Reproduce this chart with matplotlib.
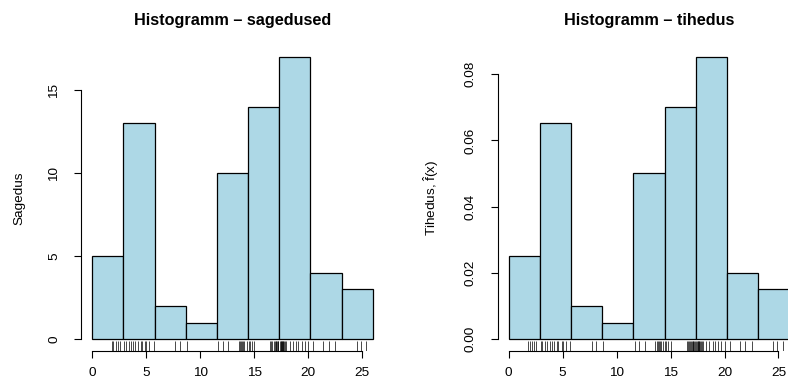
import numpy as np
import matplotlib
matplotlib.use('Agg')
import matplotlib.pyplot as plt

plt.rcParams['font.family'] = ['Liberation Sans', 'DejaVu Sans']
plt.rcParams['mathtext.fontset'] = 'custom'
plt.rcParams['mathtext.rm'] = 'Liberation Sans'
plt.rcParams['mathtext.it'] = 'Liberation Sans:italic'

# andmed (loetud rug-kriipsudest), 69 vaatlust
x = [1.8, 1.95, 2.2, 2.35, 2.55,
     2.95, 3.1, 3.4, 3.55, 3.8, 4.0, 4.2, 4.5, 4.6, 4.9, 5.0, 5.3, 5.7,
     7.7, 8.1,
     8.75,
     11.7, 12.1, 12.6, 13.6, 13.7, 13.8, 13.9, 14.0, 14.1, 14.3,
     14.5, 14.6, 14.8, 15.0, 16.5, 16.6, 16.7, 16.8, 16.9, 17.0, 17.05, 17.1, 17.2, 17.25,
     17.4, 17.45, 17.5, 17.55, 17.6, 17.65, 17.7, 17.8, 17.9, 18.0, 18.3, 18.6, 18.9, 19.1, 19.4, 19.7, 20.0,
     20.5, 21.4, 21.9, 22.5,
     24.5, 24.9, 25.4]
breaks = np.linspace(0, 26, 10)
xticks = [0, 5, 10, 15, 20, 25]
yticks_freq = [0, 5, 10, 15]
yticks_dens = [0.00, 0.02, 0.04, 0.06, 0.08]

W, H = 788, 388
fig = plt.figure(figsize=(W / 100, H / 100), dpi=100)
ax1 = fig.add_axes([81 / W, 1 - 350.6 / H, 303 / W, 305.2 / H])
ax2 = fig.add_axes([497.5 / W, 1 - 350.6 / H, 303 / W, 305.2 / H])

panels = [
    (ax1, False, 'Histogramm – sagedused', 'Sagedus', yticks_freq, '{:g}'),
    (ax2, True, 'Histogramm – tihedus', r'Tihedus, $\hat{\mathrm{f}}\mathrm{(x)}$', yticks_dens, '{:.2f}'),
]

for ax, dens, title, ylab, yt, fmt in panels:
    h, _, _ = ax.hist(x, bins=breaks, density=dens, color='#ADD8E6',
                      edgecolor='black', linewidth=0.9)
    top = h.max()
    ax.set_xlim(-0.04 * 26, 26 * 1.04)
    ax.set_ylim(-0.04 * top, 1.04 * top)

    # rug
    ax.vlines(x, 0, 0.03, transform=ax.get_xaxis_transform(),
              color='black', linewidth=0.5)

    for s in ['top', 'right']:
        ax.spines[s].set_visible(False)
    ax.spines['left'].set_bounds(yt[0], yt[-1])
    ax.spines['bottom'].set_bounds(xticks[0], xticks[-1])
    ax.spines['left'].set_linewidth(0.8)
    ax.spines['bottom'].set_linewidth(0.8)

    ax.set_xticks(xticks)
    ax.set_yticks(yt)
    ax.set_yticklabels([fmt.format(v) for v in yt], rotation=90, va='center')
    ax.tick_params(axis='x', length=5, width=0.8, pad=7, labelsize=9.7)
    ax.tick_params(axis='y', length=5, width=0.8, pad=10, labelsize=9.7)

    ax.set_title(title, fontweight='bold', fontsize=11.7, pad=14.6)
    ax.set_ylabel(ylab, fontsize=9.7)
    ax.yaxis.set_label_coords(-0.185, 0.5)

fig.savefig('out.png', dpi=100)
